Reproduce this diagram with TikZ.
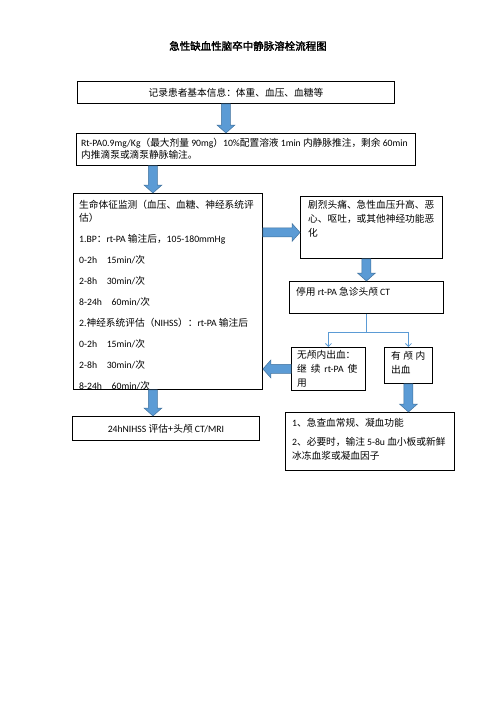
\documentclass[tikz,border=0pt]{standalone}
\usepackage{fontspec}
\setmainfont{Noto Sans CJK SC}[AutoFakeBold=2]
\newfontfamily\enfont{Carlito}
\newcommand\en[1]{{\enfont #1}}
\newcommand\boxfont{\fontsize{9.7}{13}\selectfont}
\usetikzlibrary{positioning,calc,arrows.meta}

\definecolor{arrowfill}{HTML}{5B9BD5}
\definecolor{arrowline}{HTML}{41719C}

% block arrow from #1 to #2
\newcommand\blkarrow[2]{%
  \path[blockarrow] let \p1=(#1), \p2=(#2),
      \n1={atan2(\y2-\y1,\x2-\x1)}, \n2={veclen(\x2-\x1,\y2-\y1)} in
    [shift={(\p1)}, rotate=\n1]
    (0pt,-4.5pt) -- ({(\n2-8)*1pt},-4.5pt) -- ({(\n2-8)*1pt},-9pt) -- ({\n2*1pt},0pt)
    -- ({(\n2-8)*1pt},9pt) -- ({(\n2-8)*1pt},4.5pt) -- (0pt,4.5pt) -- cycle;}

\begin{document}
\begin{tikzpicture}[x=1pt,y=-1pt,
  box/.style={draw, line width=0.9pt, inner sep=0pt, anchor=north west, font=\boxfont},
  txt/.style={inner sep=0pt, align=left, font=\boxfont},
  thinline/.style={draw=arrowfill, line width=0.8pt, -{Straight Barb[length=3pt,width=6pt]}},
  blockarrow/.style={fill=arrowfill, draw=arrowline, line width=0.5pt}]
\useasboundingbox (0,0) rectangle (496,702);

\node[font=\bfseries\fontsize{10.5}{12}\selectfont] (title) at (248,46) {急性缺血性脑卒中静脉溶栓流程图};

% boxes
\node[box, minimum width=317pt, minimum height=22pt] (rec) at (77,81) {记录患者基本信息：体重、血压、血糖等};
\node[box, minimum width=339pt, minimum height=32pt] (dose) at (76,133) {};
\node[box, minimum width=189pt, minimum height=196pt] (vital) at (73,193) {};
\node[box, minimum width=142pt, minimum height=62pt] (sx) at (300,196) {};
\node[box, minimum width=154pt, minimum height=32pt] (stop) at (289,281) {};
\node[box, minimum width=74pt, minimum height=43pt] (noich) at (291,347) {};
\node[box, minimum width=48pt, minimum height=36pt] (ich) at (384,347) {};
\node[box, minimum width=169pt, minimum height=58pt] (treat) at (285,412) {};
\node[box, minimum width=187pt, minimum height=24pt] (follow) at (72,416) {\en{24hNIHSS} 评估+头颅 \en{CT/MRI}};

% texts
\node[txt, below right=5pt and 5pt of dose.north west, font=\fontsize{9.7}{12}\selectfont] (dosetext)
  {\en{Rt-PA0.9mg/Kg}（最大剂量 \en{90mg}）\en{10\%}配置溶液 \en{1min} 内静脉推注，剩余 \en{60min}\\
   内推滴泵或滴泵静脉输注。};
\begin{scope}
  \clip (vital.north west) rectangle (vital.south east);
  \node[txt, below right=7pt and 6pt of vital.north west] (vitaltext)
    {生命体征监测（血压、血糖、神经系统评\\估）\\[8pt]
     \en{1.BP}：\en{rt-PA} 输注后，\en{105-180mmHg}\\[8pt]
     \en{0-2h\quad 15min/}次\\[8pt]
     \en{2-8h\quad 30min/}次\\[8pt]
     \en{8-24h\quad 60min/}次\\[8pt]
     \en{2.}神经系统评估（\en{NIHSS}）：\en{rt-PA} 输注后\\[8pt]
     \en{0-2h\quad 15min/}次\\[8pt]
     \en{2-8h\quad 30min/}次\\[8pt]
     \en{8-24h\quad 60min/}次};
\end{scope}
\node[txt, below right=4pt and 8pt of sx.north west, font=\fontsize{9.7}{14}\selectfont] (sxtext)
  {剧烈头痛、急性血压升高、恶\\心、呕吐，或其他神经功能恶\\化};
\node[txt, below right=6pt and 7pt of stop.north west] (stoptext) {停用 \en{rt-PA} 急诊头颅 \en{CT}};
\node[txt, below right=3pt and 6pt of noich.north west, font=\fontsize{9.7}{14}\selectfont] (noichtext)
  {无颅内出血：\\\makebox[60pt][s]{继 续 \en{rt-PA} 使}\\用};
\node[txt, below right=4pt and 7pt of ich.north west, font=\fontsize{9.7}{14}\selectfont] (ichtext)
  {\makebox[34pt][s]{有 颅 内}\\出血};
\node[txt, below right=6pt and 7pt of treat.north west, font=\fontsize{9.7}{14}\selectfont] (treattext)
  {\en{1}、急查血常规、凝血功能\\[5pt]
   \en{2}、必要时，输注 \en{5-8u} 血小板或新鲜\\冰冻血浆或凝血因子};

% block arrows
\coordinate (a1) at ([xshift=-10pt]rec.south);
\coordinate (a2) at ([xshift=-15pt]vital.north);
\coordinate (a3) at ([yshift=-5pt]sx.west);
\coordinate (a7) at ([xshift=-15pt]vital.south);
\blkarrow{a1}{a1 |- dose.north}
\blkarrow{a2 |- dose.south}{a2}
\blkarrow{vital.east |- a3}{a3}
\blkarrow{sx.south -| stop.north}{stop.north}
\blkarrow{noich.west}{vital.east |- noich.west}
\blkarrow{ich.south}{ich.south |- treat.north}
\blkarrow{a7}{a7 |- follow.north}

% thin connectors
\draw[thinline] (stop.south) -- ++(0,18) -| (noich.north);
\draw[thinline] (stop.south) -- ++(0,18) -| (ich.north);
\end{tikzpicture}
\end{document}
